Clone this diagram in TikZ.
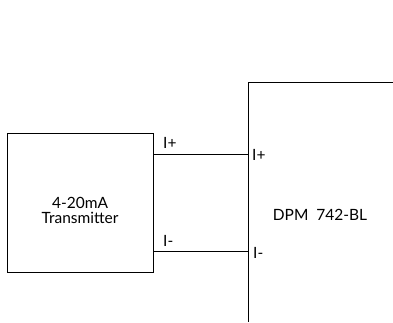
\documentclass[tikz,border=0pt]{standalone}
\usepackage{fontspec}
\setmainfont{Lato}
\begin{document}
\begin{tikzpicture}[x=1pt,y=-1pt,
  wire/.style={line width=1pt,line cap=rect},
  lbl/.style={font=\fontsize{15.5}{18}\selectfont,inner sep=0pt},
  box/.style={draw,line width=1pt,minimum width=146pt,minimum height=139pt,inner sep=0pt}]
\useasboundingbox (0,0) rectangle (393,322);
\node[box] (tx) at (80,202.5) {};
\node[lbl,align=center] (txt) at (80,210) {4-20mA\\[-3pt]Transmitter};
\coordinate (dtop) at (248,82);
\coordinate (dright) at (393,82);
\coordinate (dbot) at (248,321);
\draw[wire] (dright) -- (dtop) -- (dbot);
\coordinate (ip) at (248,154);
\coordinate (im) at (248,251);
\draw[wire] (tx.east |- ip) -- (ip);
\draw[wire] (tx.east |- im) -- (im);
\node[lbl,anchor=west] (lip) at (163,143) {I+};
\node[lbl,anchor=west] (lim) at (163,241) {I-};
\node[lbl,anchor=west] (dip) at (252,155) {I+};
\node[lbl,anchor=west] (dim) at (253,253) {I-};
\node[lbl] (dpm) at (320,215) {DPM\ \ 742-BL};
\end{tikzpicture}
\end{document}
